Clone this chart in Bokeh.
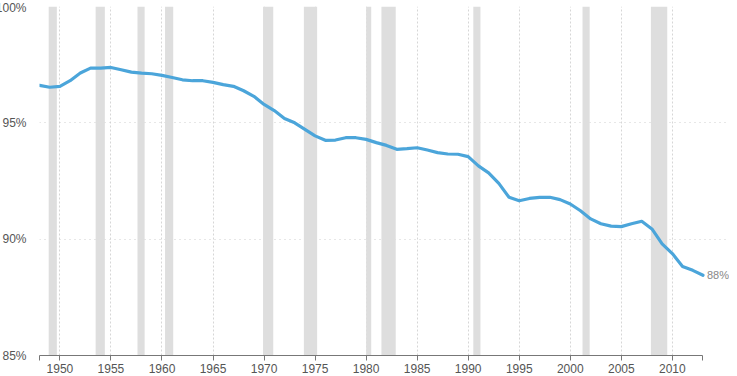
from bokeh.plotting import figure
from bokeh.models import FixedTicker, PrintfTickFormatter, Range1d, Label
from bokeh.embed import file_html
from bokeh.resources import INLINE

years = list(range(1948, 2014))
values = [
    96.61, 96.53, 96.57, 96.81, 97.14, 97.35, 97.35, 97.38, 97.28, 97.18,
    97.14, 97.11, 97.04, 96.95, 96.85, 96.81, 96.81, 96.74, 96.64, 96.57,
    96.38, 96.14, 95.79, 95.53, 95.19, 95.00, 94.72, 94.44, 94.25, 94.26,
    94.36, 94.36, 94.29, 94.15, 94.03, 93.86, 93.89, 93.93, 93.83, 93.72,
    93.66, 93.65, 93.55, 93.15, 92.85, 92.40, 91.80, 91.65, 91.75, 91.80,
    91.80, 91.70, 91.51, 91.22, 90.87, 90.66, 90.56, 90.54, 90.66, 90.77,
    90.44, 89.80, 89.38, 88.83, 88.66, 88.45,
]
rec_start = [1948.9, 1953.5, 1957.6, 1960.3, 1969.9, 1973.9, 1980.0, 1981.5, 1990.5, 2001.2, 2007.9]
rec_end = [1949.7, 1954.4, 1958.3, 1961.1, 1970.9, 1975.2, 1980.5, 1982.9, 1991.2, 2001.9, 2009.5]
x_ticks = list(range(1950, 2011, 5))
y_ticks = [85, 90, 95, 100]
last_label = "88%"
x_start, x_end = 1948, 2013

p = figure(width=737, height=376, output_backend="svg", toolbar_location=None,
           x_range=Range1d(x_start, 2015.6), y_range=Range1d(85, 100),
           min_border_left=40, min_border_right=0, min_border_top=6, min_border_bottom=21)
p.styles = {"margin-left": "-8px", "margin-right": "-8px", "margin-bottom": "-8px"}
p.outline_line_color = None
p.background_fill_color = "white"

p.quad(left=rec_start, right=rec_end, bottom=85, top=100, fill_color="#dedede", line_color=None)
p.line(years, values, line_color="#4ba5da", line_width=3.2, line_join="round", line_cap="round")

p.add_layout(Label(x=years[-1], y=values[-1], text=last_label, x_offset=4, text_baseline="middle",
                   text_font="Liberation Sans", text_font_size="11px", text_color="#888888"))

# x axis
xa = p.xaxis[0]
xa.bounds = (x_start, x_end)
xa.ticker = FixedTicker(ticks=[x_start] + x_ticks + [x_end])
xa.major_label_overrides = {x_start: "", x_end: ""}
xa.axis_line_color = "#777777"
xa.major_tick_line_color = "#777777"
xa.major_tick_out = 5
xa.major_tick_in = 0
xa.minor_tick_line_color = None
xa.major_label_text_font = "Liberation Sans"
xa.major_label_text_font_size = "12px"
xa.major_label_text_color = "#555555"
xa.major_label_standoff = 3

# y axis
ya = p.yaxis[0]
ya.ticker = FixedTicker(ticks=y_ticks)
ya.formatter = PrintfTickFormatter(format="%d%%")
ya.axis_line_color = None
ya.major_tick_line_color = None
ya.minor_tick_line_color = None
ya.major_label_text_font = "Liberation Sans"
ya.major_label_text_font_size = "12px"
ya.major_label_text_color = "#555555"
ya.major_label_standoff = 7

p.xgrid.ticker = FixedTicker(ticks=x_ticks)
p.xgrid.grid_line_color = "#d6d6d6"
p.xgrid.grid_line_dash = "2 2"
p.ygrid.ticker = FixedTicker(ticks=[90, 95, 100])
p.ygrid.bounds = (x_start, x_end)
p.ygrid.grid_line_color = "#cfcfcf"
p.ygrid.grid_line_dash = "1 4"

open("out.html", "w").write(file_html(p, INLINE))
